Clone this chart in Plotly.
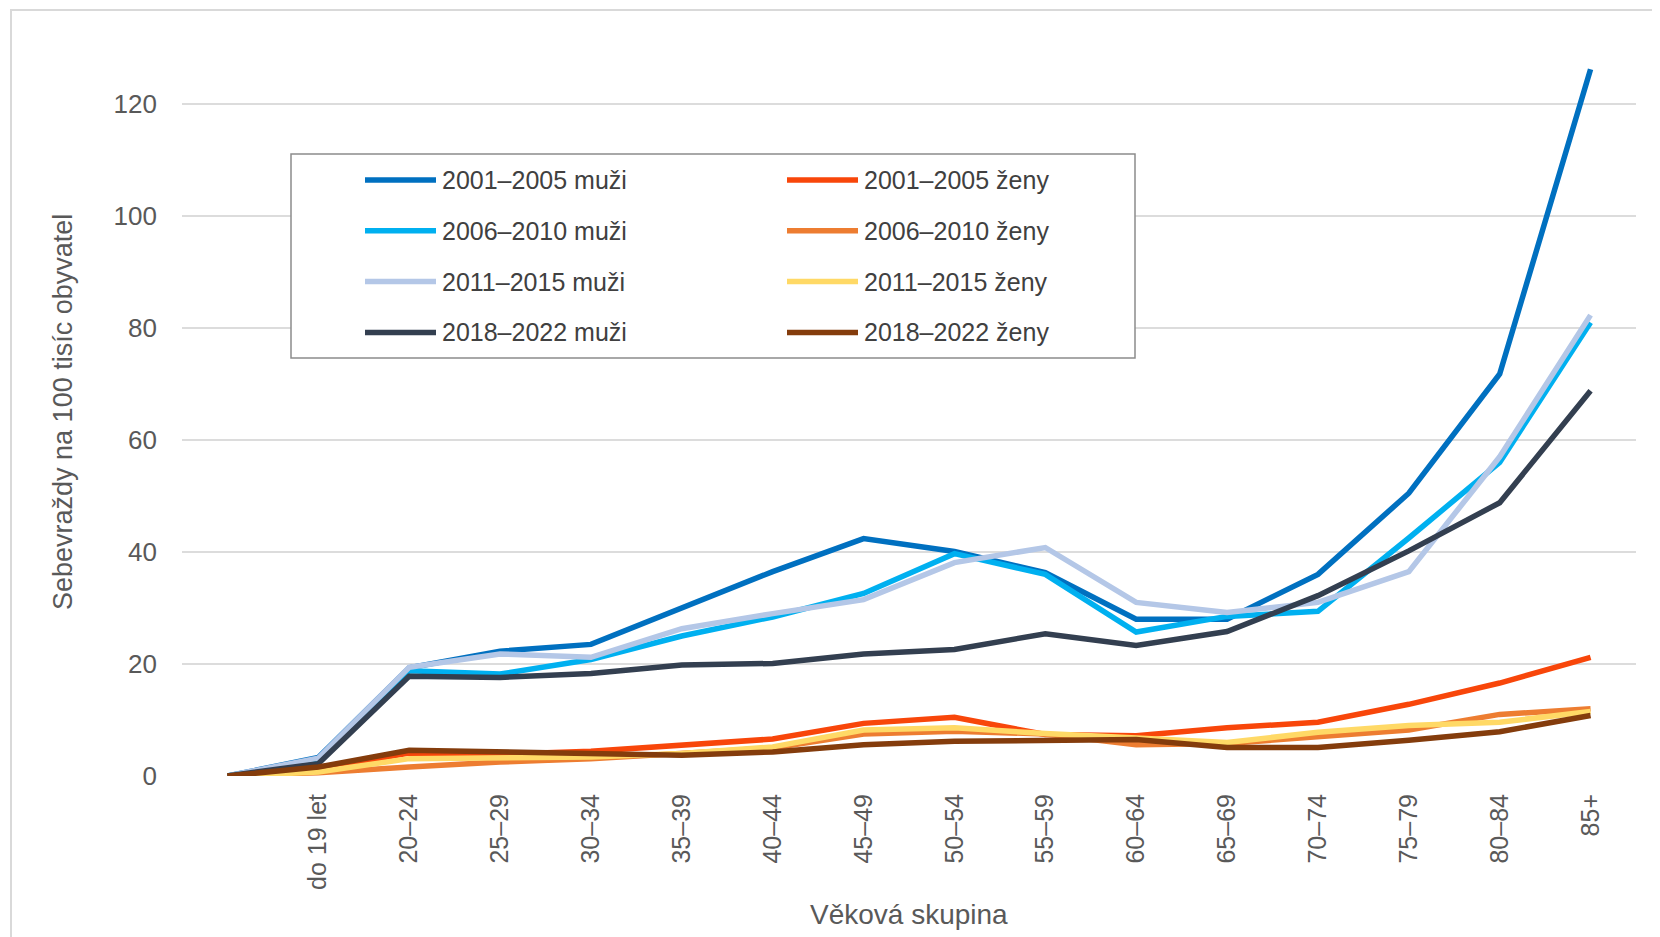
import plotly.graph_objects as go

# ===== DATA =====
AGE_GROUPS = [' ', 'do 19 let', '20–24', '25–29', '30–34', '35–39', '40–44', '45–49',
              '50–54', '55–59', '60–64', '65–69', '70–74', '75–79', '80–84', '85+']

MUZI_2001_2005 = [0, 3.3, 19.3, 22.3, 23.5, 29.9, 36.5, 42.4, 40.1, 36.3, 28.0, 28.0, 36.0, 50.5, 71.8, 126.2]
MUZI_2006_2010 = [0, 2.8, 18.8, 18.2, 20.8, 25.0, 28.4, 32.6, 39.7, 36.0, 25.7, 28.5, 29.4, 42.5, 56.0, 81.0]
MUZI_2011_2015 = [0, 3.2, 19.4, 21.8, 21.2, 26.3, 29.0, 31.5, 38.1, 40.8, 31.0, 29.2, 31.0, 36.5, 57.0, 82.3]
MUZI_2018_2022 = [0, 2.2, 17.8, 17.6, 18.3, 19.8, 20.1, 21.8, 22.6, 25.4, 23.3, 25.8, 32.2, 40.2, 48.8, 68.8]

ZENY_2001_2005 = [0, 1.2, 4.1, 3.9, 4.4, 5.5, 6.6, 9.4, 10.5, 7.4, 7.2, 8.6, 9.6, 12.8, 16.6, 21.2]
ZENY_2006_2010 = [0, 0.6, 1.6, 2.5, 3.1, 4.0, 5.0, 7.5, 8.0, 7.5, 5.6, 5.8, 7.0, 8.2, 11.0, 12.0]
ZENY_2011_2015 = [0, 0.7, 3.1, 3.2, 3.4, 4.0, 5.2, 8.2, 8.6, 7.6, 6.8, 6.0, 7.8, 9.0, 9.6, 11.5]
ZENY_2018_2022 = [0, 1.6, 4.6, 4.3, 3.8, 3.7, 4.3, 5.6, 6.2, 6.4, 6.5, 5.1, 5.1, 6.4, 7.9, 10.8]

Y_TICKS = [0, 20, 40, 60, 80, 100, 120]

# Excel order: muži / ženy interleaved (legend fills row by row)
SERIES = [
    ('2001–2005 muži', MUZI_2001_2005, '#0070C0'),
    ('2001–2005 ženy', ZENY_2001_2005, '#F8460A'),
    ('2006–2010 muži', MUZI_2006_2010, '#00B0F0'),
    ('2006–2010 ženy', ZENY_2006_2010, '#ED7D31'),
    ('2011–2015 muži', MUZI_2011_2015, '#B4C7E7'),
    ('2011–2015 ženy', ZENY_2011_2015, '#FFD966'),
    ('2018–2022 muži', MUZI_2018_2022, '#333F50'),
    ('2018–2022 ženy', ZENY_2018_2022, '#843C0C'),
]

# ===== LAYOUT GEOMETRY (page pixels; the html body adds an 8px margin) =====
OFF = 8
W_FIG, H_FIG = 1660 - OFF, 937 - OFF
PLOT_LEFT, PLOT_RIGHT, PLOT_TOP, PLOT_BOTTOM = 182, 1636, 48, 776
L, T = PLOT_LEFT - OFF, PLOT_TOP - OFF
R, B = W_FIG - (PLOT_RIGHT - OFF), H_FIG - (PLOT_BOTTOM - OFF)
PW = PLOT_RIGHT - PLOT_LEFT
PH = PLOT_BOTTOM - PLOT_TOP
FONT = 'Liberation Sans, Arial, sans-serif'
GREY_TEXT = '#595959'


def px_x(x):
    return (x - PLOT_LEFT) / PW


def px_y(y):
    return (PLOT_BOTTOM - y) / PH


fig = go.Figure()
for name, vals, color in SERIES:
    fig.add_trace(go.Scatter(x=AGE_GROUPS, y=vals, name=name, mode='lines',
                             line=dict(color=color, width=5.5), showlegend=False))

# manual legend box, two columns x four rows
shapes = [dict(type='rect', xref='paper', yref='paper',
               x0=px_x(291), x1=px_x(1135), y0=px_y(358), y1=px_y(154),
               line=dict(color='#8C8C8C', width=1.5), fillcolor='white', layer='above')]
annotations = []
for i, (name, vals, color) in enumerate(SERIES):
    col, row = i % 2, i // 2
    x_line = 365 + col * 422
    y_row = 180 + row * 50.8
    shapes.append(dict(type='line', xref='paper', yref='paper',
                       x0=px_x(x_line), x1=px_x(x_line + 71), y0=px_y(y_row), y1=px_y(y_row),
                       line=dict(color=color, width=5.5), layer='above'))
    annotations.append(dict(text=name, xref='paper', yref='paper', x=px_x(x_line + 75), y=px_y(y_row),
                            xanchor='left', yanchor='middle', showarrow=False,
                            font=dict(size=25, color='#404040', family=FONT)))

# outer chart border (left / top visible)
shapes.append(dict(type='rect', xref='paper', yref='paper',
                   x0=px_x(11), x1=px_x(1700), y0=px_y(1000), y1=px_y(10),
                   line=dict(color='#D9D9D9', width=2), layer='below'))

annotations.append(dict(text='Sebevraždy na 100 tisíc obyvatel', xref='paper', yref='paper',
                        x=px_x(63), y=px_y(412), textangle=-90, showarrow=False,
                        xanchor='center', yanchor='middle',
                        font=dict(size=27, color=GREY_TEXT, family=FONT)))
annotations.append(dict(text='Věková skupina', xref='paper', yref='paper',
                        x=px_x(909), y=px_y(914), showarrow=False,
                        xanchor='center', yanchor='middle',
                        font=dict(size=28, color=GREY_TEXT, family=FONT)))

fig.update_layout(
    width=W_FIG, height=H_FIG,
    paper_bgcolor='white', plot_bgcolor='white',
    margin=dict(l=L, r=R, t=T, b=B, autoexpand=False),
    font=dict(family=FONT, color=GREY_TEXT),
    shapes=shapes, annotations=annotations,
    showlegend=False,
)
fig.update_xaxes(type='category', range=[-0.5, len(AGE_GROUPS) - 0.5], tickangle=-90,
                 showgrid=False, zeroline=False, showline=False, ticks='',
                 tickfont=dict(size=25, color=GREY_TEXT), ticklabelstandoff=12, automargin=False)
fig.update_yaxes(range=[0, 130], tickvals=Y_TICKS, showgrid=True, gridcolor='#DCDCDC', gridwidth=2,
                 zeroline=False, showline=False, ticks='',
                 tickfont=dict(size=26, color=GREY_TEXT), ticklabelstandoff=24, automargin=False)

fig.write_html('out.html')
